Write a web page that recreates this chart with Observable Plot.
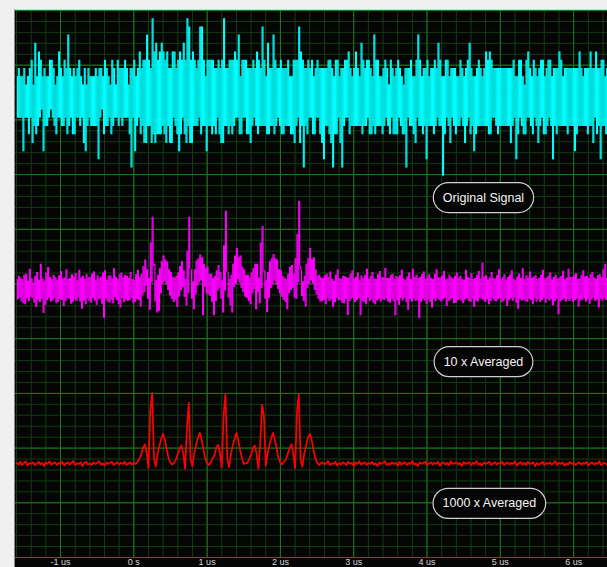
<!DOCTYPE html>
<html><head><meta charset="utf-8">
<script src="https://cdn.jsdelivr.net/npm/d3@7"></script>
<script src="https://cdn.jsdelivr.net/npm/@observablehq/plot@0.6"></script>
<style>
html,body{margin:0;padding:0;background:#f0f0f0;overflow:hidden;width:607px;height:567px;}
#wrap{position:absolute;left:14px;top:9px;border-left:1px solid #8a8a8a;border-top:1px solid #d4d4d4;background:#050505;}
#wrap svg{display:block;}
</style></head><body><div id="wrap"></div>
<script>
// sampling of the traces (us)
const t0 = -1.6;
const dtRaw = 0.0125;   // original and 10x averaged records
const dtAvg = 0.025;    // 1000x averaged record
const timeDomain = [-1.614, 6.462];
const levelDomain = [-500, 500];
const tickValues = [-1, 0, 1, 2, 3, 4, 5, 6];
const tickLabels = ["-1 us", "0 s", "1 us", "2 us", "3 us", "4 us", "5 us", "6 us"];
const labelTexts = ["Original Signal", "10 x Averaged", "1000 x Averaged"];
const labelTimes = [4.77, 4.77, 4.85];
const labelLevels = [158, -142, -401];

const original = [
379,303,394,303,379,303,379,242,394,303,364,303,379,273,394,303,409,257,364,288,
440,273,379,288,424,303,409,318,379,242,394,288,379,288,379,303,409,318,409,303,
394,288,364,273,379,303,424,303,394,288,379,288,409,303,394,273,455,288,394,303,
379,273,394,273,379,303,394,303,409,288,379,303,364,257,394,242,364,288,394,303,
379,288,379,288,379,288,394,288,379,227,394,303,394,318,379,273,409,288,394,288,
379,303,364,273,409,288,394,303,364,303,409,288,394,303,394,288,394,303,409,303,
394,303,364,273,394,212,394,303,409,242,379,288,394,303,424,273,394,288,409,257,
409,257,455,288,409,288,394,257,485,273,424,257,440,273,409,273,424,273,440,288,
424,273,409,257,424,288,394,257,394,257,424,303,424,288,394,273,409,242,424,273,
409,303,440,273,409,257,485,288,470,257,409,257,424,288,409,288,394,288,409,303,
470,273,470,288,409,288,379,242,409,288,409,288,409,273,409,288,394,273,394,303,
409,273,394,257,409,257,485,288,394,288,394,273,409,288,409,273,409,288,424,303,
409,303,455,273,379,273,409,303,409,303,409,273,394,273,394,257,394,288,409,303,
394,288,424,273,409,288,394,288,470,288,409,288,379,273,440,273,394,288,394,288,
455,273,409,288,394,303,394,288,409,273,394,273,394,288,394,288,409,288,379,273,
379,273,409,257,409,288,409,303,470,257,424,288,409,212,394,288,394,273,409,303,
394,303,409,273,379,273,394,303,409,303,394,273,394,257,394,227,394,288,394,288,
409,273,409,257,394,212,379,273,409,273,409,303,379,257,394,212,394,288,409,303,
409,303,424,273,394,288,379,288,394,288,424,288,394,288,379,288,440,273,409,288,
394,288,409,303,409,273,394,273,379,288,455,273,409,288,409,288,379,288,379,273,
394,288,409,303,394,288,364,273,409,303,394,273,379,273,394,273,409,303,394,288,
379,273,364,273,394,212,394,303,394,288,409,288,379,273,379,257,409,303,455,288,
409,288,379,273,394,288,394,227,409,288,379,288,394,288,394,273,409,288,394,303,
440,288,409,288,379,197,379,273,409,303,409,288,379,257,394,303,394,288,394,273,
379,288,379,288,409,303,394,288,379,257,394,288,409,303,440,273,394,288,379,242,
379,273,394,288,409,288,394,288,379,288,394,288,424,288,409,273,424,273,409,303,
394,303,394,288,394,273,394,288,394,288,394,288,394,288,394,288,394,288,394,257,
394,288,409,303,379,227,379,273,409,303,409,288,379,273,364,273,409,303,424,303,
394,288,379,273,409,303,394,288,379,257,394,288,409,303,409,273,379,273,394,288,
409,303,409,288,379,227,394,288,394,273,394,288,424,288,409,288,379,288,394,288,
394,273,394,288,394,288,394,288,394,242,394,273,394,288,424,288,394,288,379,288,
394,288,394,273,394,288,424,288,394,257,394,303,424,273,394,288,394,227,409,288,
409,288,379,273,394,303
];

const averaged10 = [
8,-29,14,-25,11,-33,8,-36,16,-38,18,-27,5,-32,27,-24,10,-27,2,-35,
14,-43,21,-30,7,-34,36,-28,9,-54,5,-39,20,-30,30,-26,12,-33,8,-31,
16,-27,12,-36,7,-34,15,-28,23,-30,9,-41,11,-32,26,-26,8,-28,10,-37,
17,-34,13,-29,19,-32,6,-25,25,-33,11,-46,14,-31,8,-38,17,-28,12,-32,
11,-35,18,-26,22,-31,6,-39,15,-29,10,-28,13,-37,20,-63,24,-27,7,-33,
14,-35,15,-30,9,-36,28,-25,12,-30,8,-38,17,-44,20,-27,11,-34,16,-29,
14,-32,10,-30,21,-27,8,-36,6,-34,17,-28,25,-30,12,-42,18,-22,32,-16,
44,-4,26,-28,10,-48,75,2,122,32,36,-33,6,-53,16,-50,28,-18,41,0,
51,4,44,-2,40,-12,26,-22,21,-28,12,-34,11,-30,14,-43,20,-24,32,-12,
41,-6,24,-24,8,-40,60,-18,122,27,26,-28,4,-47,26,-20,42,-4,46,2,
53,6,48,-58,36,-6,28,-18,31,-20,18,-23,18,-34,10,-58,14,-32,24,-13,
34,-8,21,-28,6,-53,70,-13,133,22,21,-26,8,-40,16,-53,36,-6,51,0,
65,8,48,2,51,-8,31,-16,26,-24,16,-26,16,-32,10,-38,20,-18,28,-10,
36,-47,36,-16,11,-36,75,-8,105,22,24,-28,6,-52,21,-26,41,-8,46,-2,
54,6,46,-2,44,-10,26,-18,24,-24,14,-30,10,-34,8,-47,18,-18,31,-12,
34,-8,18,-26,46,-28,90,2,151,32,26,-23,4,-32,14,-42,36,-8,46,0,
65,6,44,0,48,-12,26,-20,14,-28,16,-33,11,-33,10,-30,15,-38,18,-26,
12,-32,22,-29,8,-43,5,-34,16,-26,26,-31,10,-30,8,-35,14,-36,13,-28,
11,-58,11,-32,18,-28,24,-26,9,-34,12,-30,20,-27,7,-58,15,-32,10,-34,
16,-38,27,-25,8,-32,14,-29,21,-35,9,-38,8,-31,17,-28,23,-33,11,-29,
12,-30,29,-27,10,-33,10,-35,16,-28,18,-32,8,-58,14,-30,11,-39,15,-26,
25,-31,9,-26,7,-34,13,-48,20,-28,8,-33,27,-27,12,-32,16,-30,10,-63,
12,-34,17,-28,22,-31,8,-37,13,-29,17,-34,10,-44,8,-28,18,-32,26,-27,
11,-30,11,-33,15,-29,23,-26,7,-41,9,-32,16,-30,12,-27,9,-36,14,-35,
20,-30,11,-28,14,-32,8,-36,7,-29,25,-27,12,-32,10,-34,19,-28,8,-43,
10,-31,15,-33,23,-26,9,-28,38,-30,13,-34,15,-29,7,-38,11,-32,21,-27,
10,-31,9,-33,15,-29,26,-26,8,-34,12,-32,17,-28,7,-41,12,-30,16,-27,
24,-32,9,-26,6,-35,13,-46,18,-28,10,-31,28,-29,8,-32,15,-34,11,-28,
22,-30,10,-38,13,-27,15,-33,8,-29,10,-34,16,-30,25,-26,9,-35,11,-28,
14,-31,20,-29,7,-40,12,-32,16,-28,9,-56,11,-33,14,-30,23,-27,8,-33,
11,-29,27,-32,12,-27,12,-34,15,-30,19,-28,8,-42,9,-31,16,-30,24,-27,
13,-33,14,-28,10,-37,17,-30,21,-26,11,-32,8,-29,15,-44,17,-28,12,-31,
26,-27,36,-30,10,-29
];

const averaged1000 = [
-327,-330,-325,-331,-328,-324,-332,-327,-329,-326,-331,-328,-325,-330,-327,-333,-326,-329,-324,-330,
-328,-326,-331,-327,-329,-325,-332,-328,-326,-330,-327,-324,-331,-328,-329,-326,-333,-327,-325,-330,
-328,-331,-326,-329,-327,-324,-330,-328,-332,-326,-329,-327,-325,-331,-328,-326,-330,-327,-329,-325,
-331,-328,-326,-330,-327,-329,
-325,-320,-312,-300,-293,-308,-337,-230,-199,-318,-334,-310,-296,-282,-274,-286,-303,-319,-327,-330,
-327,-321,-311,-301,-295,-310,-338,-262,-217,-321,-333,-309,-294,-281,-272,-284,-302,-320,-328,-331,
-326,-319,-313,-299,-294,-309,-336,-240,-201,-319,-335,-311,-295,-283,-272,-285,-304,-318,-329,-328,
-327,-320,-312,-300,-295,-311,-338,-290,-221,-240,-332,-310,-294,-282,-272,-286,-301,-319,-327,-330,
-325,-321,-311,-300,-293,-310,-337,-235,-201,-320,-334,-310,-296,-281,-274,-284,-303,-318,-326,-331,
-328,-326,-330,-327,-324,-331,-328,-329,-325,-332,-327,-330,-326,-328,-331,-325,-329,-327,-333,-326,
-329,-324,-330,-328,-326,-331,-327,-329,-325,-330,-328,-333,-326,-329,-327,-324,-331,-328,-330,-326,
-329,-327,-332,-325,-330,-328,-326,-331,-327,-329,-324,-330,-328,-333,-326,-329,-327,-325,-331,-328,
-326,-330,-327,-329,-325,-332,-328,-326,-330,-327,-331,-324,-329,-328,-326,-330,-327,-333,-325,-329,
-328,-326,-331,-327,-329,-324,-330,-328,-332,-326,-329,-327,-325,-331,-328,-326,-330,-327,-329,-325,
-331,-328,-326,-330,-327,-329,-324,-332,-328,-326,-330,-327,-331,-325,-329,-328,-326,-333,-327,-330,
-328,-325,-331,-327,-329,-326,-330,-328,-324,-331,-327,-329,-326,-332,-328,-330,-325,-329,-327,-331,
-328,-326,-330,-327,-329,-325,-332,-328,-326,-330,-327,-329,-324,-331,-328,-327,-330
];

const minorX = d3.range(-8, 33).map(k => k / 5);
const minorY = d3.range(-25, 26).map(k => k * 20);
const majorY = d3.range(-5, 6).map(k => k * 100);
const timeRaw = (d, i) => t0 + i * dtRaw;
const timeAvg = (d, i) => t0 + i * dtAvg;
// scope-style drawing of a dense record: each sample is joined to the previous one by a vertical stroke
const scopeTrace = (values, color) => Plot.ruleX(values, {
  x: timeRaw, y1: d => d, y2: (d, i) => (i > 0 ? values[i - 1] : d),
  stroke: color, strokeWidth: 1.15, strokeLinecap: "butt"
});

const chart = Plot.plot({
  width: 592, height: 557,
  marginLeft: 0, marginRight: 0, marginTop: 0, marginBottom: 10,
  x: {domain: timeDomain},
  y: {domain: levelDomain, axis: null},
  style: {background: "#050505", color: "#d8d8d8", fontFamily: "'Liberation Sans', Arial, sans-serif", overflow: "hidden"},
  marks: [
    Plot.ruleX(minorX, {stroke: "#123d12", strokeWidth: 1}),
    Plot.ruleY(minorY, {stroke: "#123d12", strokeWidth: 1}),
    Plot.ruleX(tickValues, {stroke: "#1e7a1e", strokeWidth: 1}),
    Plot.ruleY(majorY, {stroke: "#1e7a1e", strokeWidth: 1}),
    scopeTrace(original, "#00ffff"),
    scopeTrace(averaged10, "#ff00ff"),
    Plot.lineY(averaged1000, {x: timeAvg, y: d => d, stroke: "#ff0000", strokeWidth: 1.7}),
    Plot.axisX({ticks: tickValues, tickFormat: d => tickLabels[tickValues.indexOf(d)], tickSize: 0, tickPadding: 1, fontSize: 9, fill: "#d8d8d8", label: null}),
    Plot.text(labelTexts, {x: (d, i) => labelTimes[i], y: (d, i) => labelLevels[i], text: d => d, fill: "#f4f4f4", fontSize: 12.5})
  ]
});
document.getElementById("wrap").appendChild(chart);

// rounded frames behind the annotation labels
chart.querySelectorAll('g[aria-label="text"] text').forEach(t => {
  const b = t.getBBox();
  const r = document.createElementNS("http://www.w3.org/2000/svg", "rect");
  const h = 30, cy = b.y + b.height / 2;
  r.setAttribute("x", b.x - 9.5);
  r.setAttribute("y", cy - h / 2);
  r.setAttribute("width", b.width + 19);
  r.setAttribute("height", h);
  r.setAttribute("rx", h / 2);
  r.setAttribute("fill", "#050505");
  r.setAttribute("stroke", "#cfcfcf");
  r.setAttribute("stroke-width", 1.2);
  const tr = t.getAttribute("transform");
  if (tr) r.setAttribute("transform", tr);
  t.parentNode.insertBefore(r, t);
});
</script></body></html>
